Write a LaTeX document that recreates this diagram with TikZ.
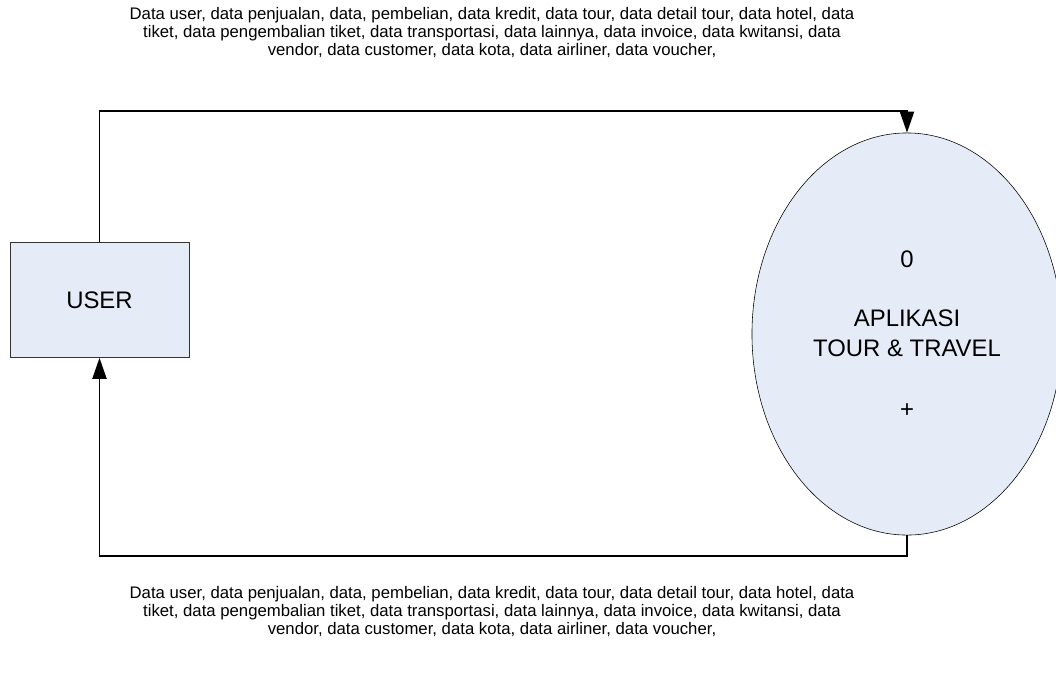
\documentclass[tikz,border=0pt]{standalone}
\usepackage{fontspec}
\setmainfont{Liberation Sans}
\usetikzlibrary{shapes.geometric,arrows.meta}
\definecolor{procfill}{RGB}{230,236,247}

\begin{document}
\begin{tikzpicture}[x=0.025cm,y=-0.025cm,
  flow/.style={->,>={Triangle[length=15pt,width=10pt]},line width=1.4pt},
  flowtext/.style={align=center,font=\fontsize{11.9}{12.8}\selectfont}]
\useasboundingbox (0,0) rectangle (1056,673);
\node[draw=black!80, fill=procfill, minimum width=4.475cm, minimum height=2.875cm,
  font=\fontsize{17}{21}\selectfont] (user) at (99.5,300) {USER};
\node[draw, ellipse, fill=procfill, minimum width=7.75cm, minimum height=10.05cm, inner sep=0pt,
  align=center, font=\fontsize{17}{21.3}\selectfont] (app) at (907,334)
  {0\\[21pt]APLIKASI\\TOUR \& TRAVEL\\[22pt]+};
\node[flowtext] (intext) at (492,33) {Data user, data penjualan, data, pembelian, data kredit, data tour, data detail tour, data hotel, data\\
  tiket, data pengembalian tiket, data transportasi, data lainnya, data invoice, data kwitansi, data\\
  vendor, data customer, data kota, data airliner, data voucher,};
\node[flowtext] (outtext) at (492,611) {Data user, data penjualan, data, pembelian, data kredit, data tour, data detail tour, data hotel, data\\
  tiket, data pengembalian tiket, data transportasi, data lainnya, data invoice, data kwitansi, data\\
  vendor, data customer, data kota, data airliner, data voucher,};
\coordinate (tl) at (99.5,111);
\coordinate (tr) at (907,111);
\coordinate (bl) at (99.5,556);
\coordinate (br) at (907,556);
\draw[flow] (user.north) -- (tl) -- (tr) -- (app.north);
\draw[flow] (app.south) -- (br) -- (bl) -- (user.south);
\end{tikzpicture}
\end{document}
